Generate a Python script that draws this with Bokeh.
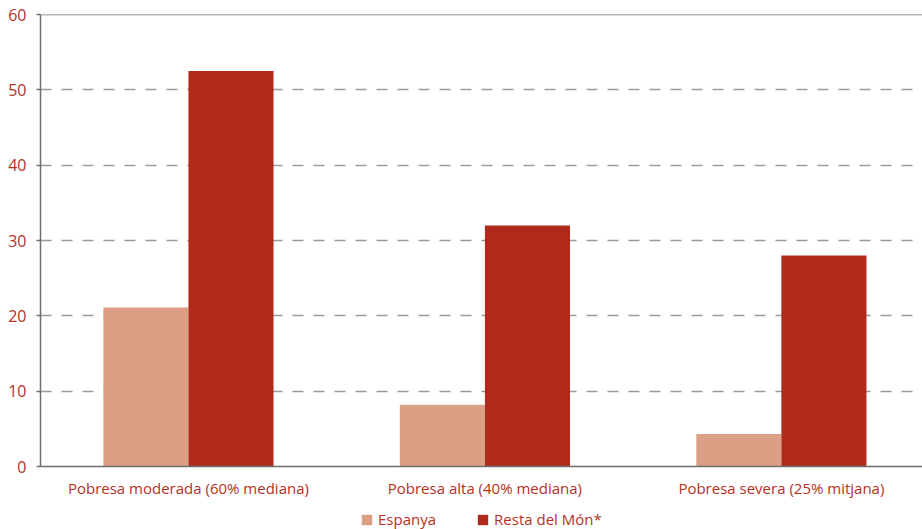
from bokeh.plotting import figure
from bokeh.layouts import column
from bokeh.models import (ColumnDataSource, Range1d, FixedTicker, Span, Legend,
                          LegendItem)
from bokeh.transform import dodge
from bokeh.embed import file_html
from bokeh.resources import INLINE

# Poverty rates (%) by threshold, Spain vs rest of the world
categories = ["Pobresa moderada (60% mediana)",
              "Pobresa alta (40% mediana)",
              "Pobresa severa (25% mitjana)"]
espanya = [21.1, 8.2, 4.3]
resta_mon = [52.5, 32.0, 28.0]
series_names = ["Espanya", "Resta del Món*"]
y_ticks = [0, 10, 20, 30, 40, 50, 60]

COL_ES = "#DB9F86"
COL_RM = "#B02A1C"
TEXT = "#B5301E"
AXIS = "#6E6E6E"
FONT = "Open Sans"

src = ColumnDataSource(dict(
    x=list(range(len(categories))),
    espanya=espanya,
    resta=resta_mon,
))

p = figure(width=922, height=506, output_backend="svg", toolbar_location=None,
           x_range=Range1d(-0.499, 2.476), y_range=Range1d(0, 60),
           min_border_left=40, min_border_right=0, min_border_top=14,
           min_border_bottom=40)
p.outline_line_color = None
p.background_fill_color = "white"
p.border_fill_color = "white"

bw = 0.287
p.vbar(x=dodge("x", -bw / 2, range=p.x_range), top="espanya", width=bw,
       source=src, color=COL_ES, line_color=None)
p.vbar(x=dodge("x", bw / 2, range=p.x_range), top="resta", width=bw,
       source=src, color=COL_RM, line_color=None)

# top frame line
p.add_layout(Span(location=60, dimension="width", line_color=AXIS,
                  line_width=1.5, level="underlay"))

# y axis
ya = p.yaxis[0]
ya.ticker = FixedTicker(ticks=y_ticks)
ya.axis_line_color = AXIS
ya.axis_line_width = 1.5
ya.major_tick_line_color = AXIS
ya.major_tick_line_width = 1.5
ya.major_tick_out = 4
ya.major_tick_in = 0
ya.minor_tick_line_color = None
ya.major_label_text_color = TEXT
ya.major_label_text_font = FONT
ya.major_label_text_font_size = "16px"
ya.major_label_standoff = 10

# x axis
xa = p.xaxis[0]
xa.ticker = FixedTicker(ticks=list(range(len(categories))))
xa.major_label_overrides = {i: c for i, c in enumerate(categories)}
xa.axis_line_color = AXIS
xa.axis_line_width = 1.5
xa.major_tick_line_color = None
xa.minor_tick_line_color = None
xa.major_tick_out = 0
xa.major_tick_in = 0
xa.major_label_text_color = TEXT
xa.major_label_text_font = FONT
xa.major_label_text_font_size = "15px"
xa.major_label_standoff = 11

p.xgrid.grid_line_color = None
p.ygrid.ticker = FixedTicker(ticks=y_ticks[1:-1])
p.ygrid.grid_line_color = "#9A9A9A"
p.ygrid.grid_line_width = 1.5
p.ygrid.grid_line_dash = "11 10"

# legend strip under the chart; its swatch renderers are zero-height bars
leg = figure(width=922, height=26, output_backend="svg", toolbar_location=None,
             x_axis_type=None, y_axis_type=None,
             x_range=Range1d(0, 1), y_range=Range1d(0, 1),
             min_border=0, outline_line_color=None)
leg.xgrid.grid_line_color = None
leg.ygrid.grid_line_color = None
swatch = ColumnDataSource(dict(x=[0.5], top=[0]))
g_es = leg.vbar(x="x", top="top", bottom=0, width=0.01, source=swatch,
                color=COL_ES, line_color=None)
g_rm = leg.vbar(x="x", top="top", bottom=0, width=0.01, source=swatch,
                color=COL_RM, line_color=None)

legend = Legend(items=[LegendItem(label=series_names[0], renderers=[g_es]),
                       LegendItem(label=series_names[1], renderers=[g_rm])],
                orientation="horizontal", location=(320, 3),
                label_text_color=TEXT, label_text_font=FONT,
                label_text_font_size="15px", label_height=20,
                glyph_width=13, glyph_height=13, label_standoff=5,
                spacing=40, padding=0, margin=0,
                border_line_color=None, background_fill_alpha=0)
leg.add_layout(legend, "center")

open("out.html", "w").write(file_html(column(p, leg), INLINE))
